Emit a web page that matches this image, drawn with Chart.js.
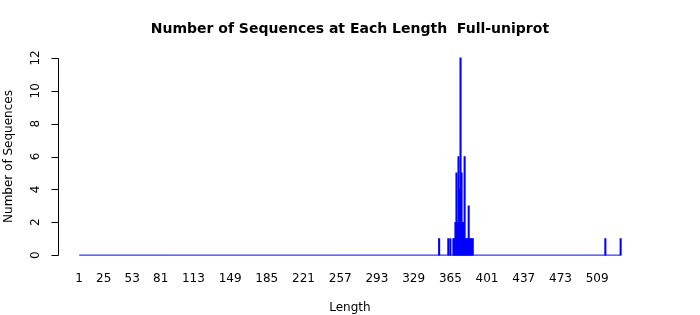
<!DOCTYPE html>
<html>
<head>
<meta charset="utf-8">
<script src="https://cdn.jsdelivr.net/npm/chart.js@4/dist/chart.umd.min.js"></script>
<style>
  html, body { margin: 0; padding: 0; background: #fff; }
  #wrap { width: 700px; height: 315px; }
</style>
</head>
<body>
<div id="wrap"><canvas id="c" width="700" height="315"></canvas></div>
<script>
const titleText = "Number of Sequences at Each Length  Full-uniprot";
const xTitle = "Length";
const yTitle = "Number of Sequences";
const lengths = [354, 363, 365, 368, 369, 370, 371, 372, 373, 374, 375, 376, 377, 378, 379, 380, 381, 382, 383, 384, 385, 386, 387, 517, 532];
const counts  = [1,   1,   1,   1,   1,   2,   5,   2,   6,   4,   12,  5,   2,   2,   6,   1,   1,   1,   3,   1,   1,   1,   1,   1,   1];
const xTicks = [1, 25, 53, 81, 113, 149, 185, 221, 257, 293, 329, 365, 401, 437, 473, 509];
const yTicks = [0, 2, 4, 6, 8, 10, 12];

const FONT = '"DejaVu Sans", Verdana, sans-serif';

const xMinData = xTicks[0];
const xMaxData = Math.max(...lengths);
const xPad = (xMaxData - xMinData) * 0.04;
const yMaxData = Math.max(...yTicks);
const yPad = yMaxData * 0.04;

const barData = lengths.map((l, i) => ({ x: l, y: counts[i] }));
const baseData = [{ x: xMinData, y: 0 }, { x: xMaxData, y: 0 }];

const axesPlugin = {
  id: 'rAxes',
  afterDraw(chart) {
    const ctx = chart.ctx;
    const xs = chart.scales.x, ys = chart.scales.y;
    const ca = chart.chartArea;
    ctx.save();
    ctx.fillStyle = '#000';
    ctx.strokeStyle = '#000';
    ctx.lineWidth = 1;
    // title
    ctx.font = 'bold 14px ' + FONT;
    ctx.textAlign = 'center';
    ctx.textBaseline = 'middle';
    ctx.fillText(titleText, (ca.left + ca.right) / 2, 29);
    // y axis line
    const axX = Math.round(ca.left) + 0.5;
    const y0 = ys.getPixelForValue(yTicks[0]);
    const y1 = ys.getPixelForValue(yTicks[yTicks.length - 1]);
    ctx.beginPath();
    ctx.moveTo(axX, Math.round(y0) + 0.5);
    ctx.lineTo(axX, Math.round(y1) + 0.5);
    yTicks.forEach(v => {
      const py = Math.round(ys.getPixelForValue(v)) + 0.5;
      ctx.moveTo(axX, py);
      ctx.lineTo(axX - 7, py);
    });
    ctx.stroke();
    // y tick labels (rotated)
    ctx.font = '12px ' + FONT;
    yTicks.forEach(v => {
      const py = ys.getPixelForValue(v);
      ctx.save();
      ctx.translate(ca.left - 22, py);
      ctx.rotate(-Math.PI / 2);
      ctx.textAlign = 'center';
      ctx.textBaseline = 'middle';
      ctx.fillText(String(v), 0, 0);
      ctx.restore();
    });
    // y title
    ctx.save();
    ctx.translate(9, (ca.top + ca.bottom) / 2);
    ctx.rotate(-Math.PI / 2);
    ctx.textAlign = 'center';
    ctx.textBaseline = 'middle';
    ctx.fillText(yTitle, 0, 0);
    ctx.restore();
    // x tick labels
    ctx.textAlign = 'center';
    ctx.textBaseline = 'middle';
    xTicks.forEach(v => {
      ctx.fillText(String(v), xs.getPixelForValue(v), ca.bottom + 16);
    });
    // x title
    ctx.fillText(xTitle, (ca.left + ca.right) / 2, ca.bottom + 45);
    ctx.restore();
  }
};

new Chart(document.getElementById('c'), {
  type: 'bar',
  data: {
    datasets: [
      {
        type: 'line',
        data: baseData,
        borderColor: '#0000ff',
        borderWidth: 1,
        pointRadius: 0,
        fill: false,
        order: 2
      },
      {
        type: 'bar',
        data: barData,
        backgroundColor: '#0000ff',
        borderWidth: 0,
        barThickness: 1.4,
        grouped: false,
        order: 1
      }
    ]
  },
  options: {
    responsive: false,
    animation: false,
    devicePixelRatio: 1,
    layout: { padding: { left: 57.5, right: 57.7, top: 50, bottom: 52 } },
    plugins: { legend: { display: false }, title: { display: false }, tooltip: { enabled: false } },
    scales: {
      x: { type: 'linear', display: false, min: xMinData - xPad, max: xMaxData + xPad, offset: false },
      y: { type: 'linear', display: false, min: -yPad, max: yMaxData + yPad }
    }
  },
  plugins: [axesPlugin]
});
</script>
</body>
</html>
